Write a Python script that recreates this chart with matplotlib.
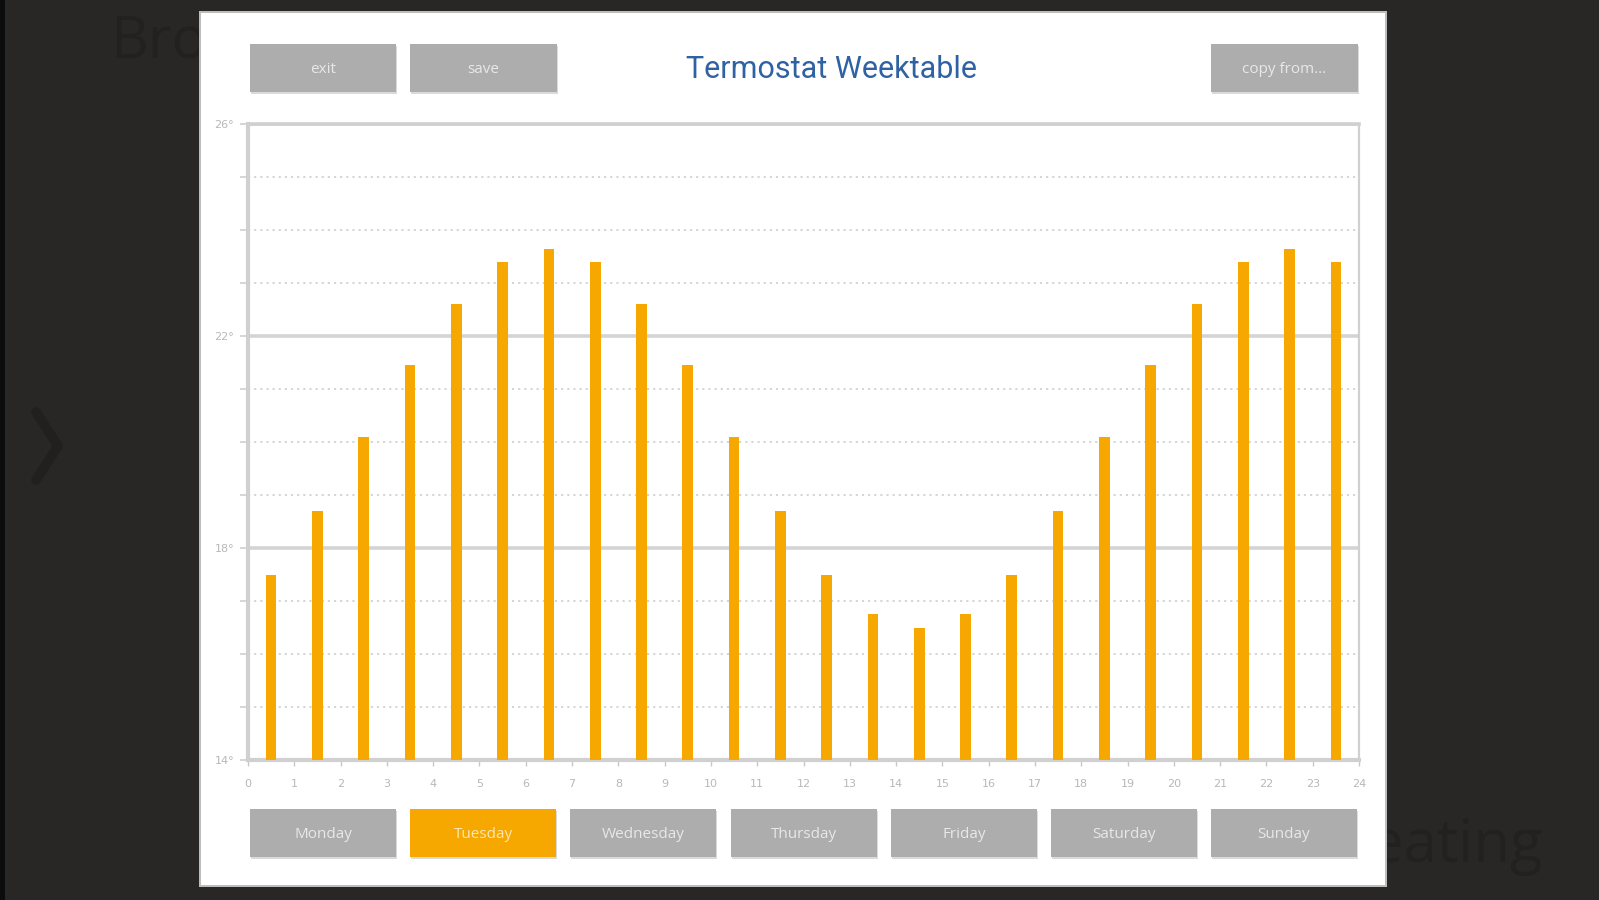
import matplotlib
matplotlib.use("Agg")
import matplotlib.pyplot as plt
from matplotlib.patches import Rectangle
from matplotlib.lines import Line2D
from matplotlib.ticker import FixedLocator, FixedFormatter

W, H = 1599, 900

# Hourly set-point temperatures (°C) for the selected day
hours = list(range(24))
setpoints = [17.5, 18.7, 20.1, 21.45, 22.6, 23.4, 23.65, 23.4, 22.6, 21.45, 20.1, 18.7,
             17.5, 16.75, 16.5, 16.75, 17.5, 18.7, 20.1, 21.45, 22.6, 23.4, 23.65, 23.4]
hour_ticks = list(range(25))
temp_major = [14, 18, 22, 26]
temp_minor = [15, 16, 17, 19, 20, 21, 23, 24, 25]
days = ["Monday", "Tuesday", "Wednesday", "Thursday", "Friday", "Saturday", "Sunday"]
selected_day = "Tuesday"
title = "Termostat Weektable"

BG = "#282726"
PANEL = "#ffffff"
BTN = "#adadad"
ORANGE = "#f6a800"
TITLE_BLUE = "#2f62a3"
GRID = "#d4d4d4"
TICK_TXT = "#b8b8b8"
SHADOW_TXT = "#222120"


def fx(px):
    return px / W


def fy(py):
    return 1 - py / H


def rect(x0, y0, x1, y1, color, z, edge="none", lw=0):
    r = Rectangle((fx(x0), fy(y1)), (x1 - x0) / W, (y1 - y0) / H,
                  transform=fig.transFigure, facecolor=color,
                  edgecolor=edge, linewidth=lw, zorder=z)
    fig.patches.append(r)
    return r


def button(x0, y0, x1, y1, label, color):
    rect(x0 + 1, y0 + 2, x1 + 1, y1 + 2, "#dadada", 1)
    rect(x0, y0, x1, y1, color, 1.5)
    fig.text(fx((x0 + x1) / 2), fy((y0 + y1) / 2 + 1.5), label, ha="center", va="center",
             color="white", alpha=0.72, fontsize=11, family="Open Sans", zorder=2)


fig = plt.figure(figsize=(W / 100, H / 100), dpi=100, facecolor=BG)

# page behind the dialog
rect(0, 0, 5, H, "#0c0c0c", -5)
fig.text(fx(110), fy(58), "Bro", fontsize=42, color=SHADOW_TXT, family="Open Sans",
         ha="left", va="baseline", zorder=-4)
fig.text(fx(1542), fy(862), "Heating", fontsize=43, color=SHADOW_TXT, family="Open Sans",
         ha="right", va="baseline", zorder=-4)
fig.add_artist(Line2D([fx(36), fx(58), fx(36)], [fy(412), fy(446), fy(480)],
                      transform=fig.transFigure, color="#212020", lw=7,
                      solid_capstyle="round", zorder=-4))

# dialog panel
rect(199, 11, 1387, 887, "#bdbdbd", -3)
rect(201, 13, 1385, 885, PANEL, -2)

# header
button(250, 44, 396, 92, "exit", BTN)
button(410, 44, 557, 92, "save", BTN)
button(1211, 44, 1358, 92, "copy from...", BTN)
fig.text(fx(831), fy(70), title, ha="center", va="center", fontsize=22,
         color=TITLE_BLUE, family="Roboto", zorder=2)

# day selector
day_x = [250, 410, 570, 731, 891, 1051, 1211]
for x0, d in zip(day_x, days):
    button(x0, 809, x0 + 146, 857, d, ORANGE if d == selected_day else BTN)

# chart
ax = fig.add_axes([fx(248), fy(760), (1359 - 248) / W, (760 - 124) / H])
ax.set_facecolor(PANEL)
ax.bar([h + 0.5 for h in hours], setpoints, width=0.23, color=ORANGE, zorder=3)
ax.set_xlim(0, 24)
ax.set_ylim(14, 26)

ax.xaxis.set_major_locator(FixedLocator(hour_ticks))
ax.xaxis.set_major_formatter(FixedFormatter([str(h) for h in hour_ticks]))
ax.yaxis.set_major_locator(FixedLocator(temp_major))
ax.yaxis.set_major_formatter(FixedFormatter([f"{t}°" for t in temp_major]))
ax.yaxis.set_minor_locator(FixedLocator(temp_minor))

ax.tick_params(axis="x", length=4, width=1, color="#c8c8c8", labelsize=8,
               labelcolor=TICK_TXT, pad=10)
ax.tick_params(axis="y", which="both", length=6, width=1.2, color="#d0d0d0",
               labelsize=8, labelcolor=TICK_TXT, pad=4)

ax.grid(axis="y", which="major", color=GRID, linewidth=2.6, zorder=1)
ax.grid(axis="y", which="minor", color="#d2d2d2", linewidth=1.3,
        linestyle=(0, (1.2, 2.2)), zorder=1)
ax.set_axisbelow(True)

for side, lw in (("left", 3), ("bottom", 3), ("top", 2.6), ("right", 1.6)):
    ax.spines[side].set_color("#d0d0d0")
    ax.spines[side].set_linewidth(lw)

fig.savefig("out.png", dpi=100, facecolor=BG)
